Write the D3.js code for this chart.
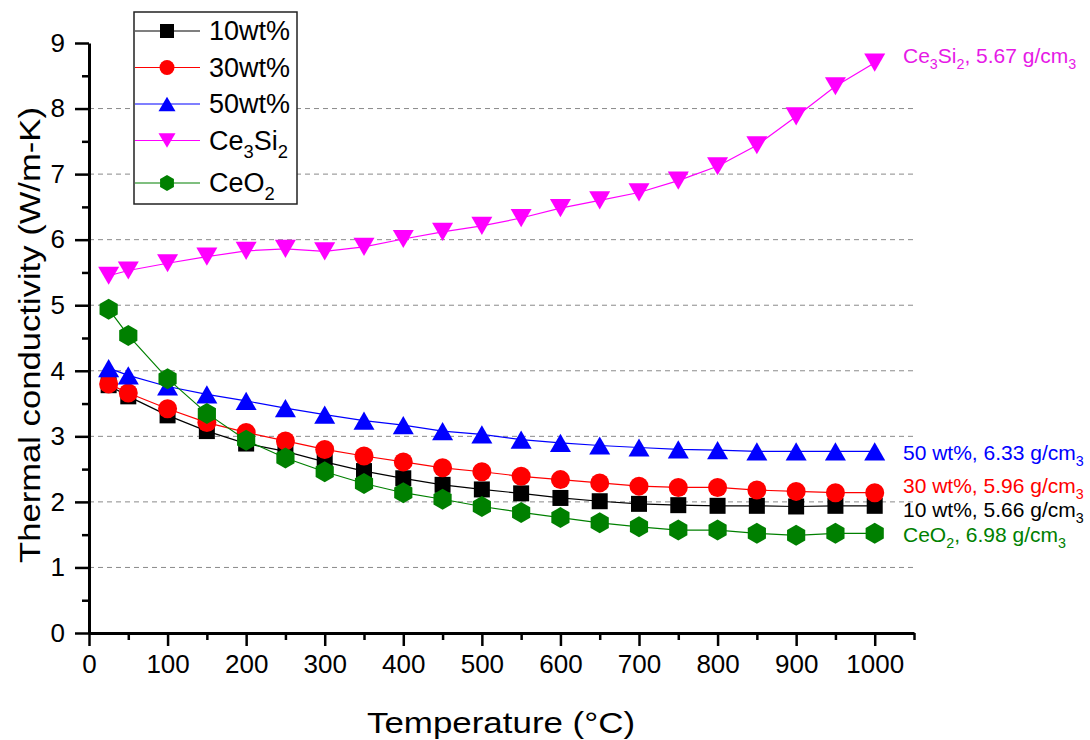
<!DOCTYPE html>
<html lang="en">
<head>
<meta charset="utf-8">
<title>Thermal conductivity</title>
<style>
  body { margin: 0; background: #fff; }
  svg text { font-family: Arial, "Liberation Sans", sans-serif; fill: #000; }
  .grid line { stroke: #8a8a8a; stroke-width: 1; stroke-dasharray: 5,4; }
  .axis path { stroke: #000; stroke-width: 3; }
  .axis line { stroke: #000; stroke-width: 2.5; }
</style>
</head>
<body>
<div id="chart"></div>
<script src="https://cdn.jsdelivr.net/npm/d3@7"></script>
<script>
var width = 1090,
    height = 740;

// temperature (C)
var temps = [25, 50, 100, 150, 200, 250, 300, 350, 400, 450, 500, 550, 600, 650, 700, 750, 800, 850, 900, 950, 1000];

// thermal conductivity (W/m-K)
var wt10   = [3.78, 3.61, 3.32, 3.08, 2.89, 2.77, 2.61, 2.47, 2.36, 2.26, 2.19, 2.13, 2.06, 2.01, 1.97, 1.95, 1.94, 1.94, 1.93, 1.94, 1.94];
var wt30   = [3.80, 3.66, 3.42, 3.21, 3.06, 2.93, 2.80, 2.70, 2.61, 2.52, 2.46, 2.39, 2.34, 2.29, 2.24, 2.22, 2.22, 2.18, 2.16, 2.14, 2.14];
var wt50   = [4.04, 3.93, 3.76, 3.64, 3.54, 3.43, 3.33, 3.24, 3.17, 3.08, 3.03, 2.95, 2.90, 2.86, 2.83, 2.80, 2.79, 2.77, 2.77, 2.77, 2.77];
var ce3si2 = [5.45, 5.53, 5.64, 5.74, 5.83, 5.86, 5.82, 5.89, 6.01, 6.12, 6.21, 6.33, 6.48, 6.60, 6.72, 6.90, 7.12, 7.44, 7.88, 8.34, 8.70];
var ceo2   = [4.94, 4.54, 3.88, 3.35, 2.94, 2.67, 2.46, 2.28, 2.14, 2.04, 1.93, 1.84, 1.76, 1.68, 1.62, 1.57, 1.57, 1.52, 1.49, 1.52, 1.52];

var names  = ["10wt%", "30wt%", "50wt%", "Ce3Si2", "CeO2"];
var notes  = ["10 wt%, 5.66 g/cm3", "30 wt%, 5.96 g/cm3", "50 wt%, 6.33 g/cm3", "Ce3Si2, 5.67 g/cm3", "CeO2, 6.98 g/cm3"];
var colors = ["#000000", "#ff0000", "#0000ff", "#ff00ff", "#008000"];

var xTicks = [0, 100, 200, 300, 400, 500, 600, 700, 800, 900, 1000];
var xMinor = [50, 150, 250, 350, 450, 550, 650, 750, 850, 950, 1050];
var yTicks = [0, 1, 2, 3, 4, 5, 6, 7, 8, 9];
var yMinor = [0.5, 1.5, 2.5, 3.5, 4.5, 5.5, 6.5, 7.5, 8.5];
var gridAt = [1, 2, 3, 4, 5, 6, 7, 8];

var series = [wt10, wt30, wt50, ce3si2, ceo2];

// where the right-hand notes sit, in W/m-K
var noteAt = [1.77, 2.13, 2.64, 8.69, 1.39];

var svg = d3.select("#chart")
    .append("svg")
    .attr("width", width)
    .attr("height", height);

var x = d3.scaleLinear().domain([0, 1050]).range([89, 914]);
var y = d3.scaleLinear().domain([0, 9]).range([633, 43]);

// marker shapes, size = half width
var hexagon = { draw: function(c, r) {
  for (var k = 0; k < 6; k++) {
    var a = (-90 + 60 * k) * Math.PI / 180;
    if (k === 0) c.moveTo(r * Math.cos(a), r * Math.sin(a));
    else c.lineTo(r * Math.cos(a), r * Math.sin(a));
  }
  c.closePath();
}};
var shapes = [
  { draw: function(c, r) { c.rect(-r, -r, 2 * r, 2 * r); } },
  { draw: function(c, r) { c.moveTo(r, 0); c.arc(0, 0, r, 0, 2 * Math.PI); } },
  { draw: function(c, r) { var h = r * Math.sqrt(3); c.moveTo(0, -h / 2); c.lineTo(r, h / 2); c.lineTo(-r, h / 2); c.closePath(); } },
  { draw: function(c, r) { var h = r * Math.sqrt(3); c.moveTo(0, h / 2); c.lineTo(r, -h / 2); c.lineTo(-r, -h / 2); c.closePath(); } },
  hexagon
];
var markR = [8, 9.5, 10.5, 10.5, 10.5];
var legendR = [7, 7.5, 8.5, 8.5, 8];

// digits right after a letter become subscripts
function segments(str) {
  var segs = [];
  for (var i = 0; i < str.length; i++) {
    var ch = str[i];
    var sub = /\d/.test(ch) && i > 0 && /[A-Za-z]/.test(str[i - 1]);
    var last = segs[segs.length - 1];
    if (last && !sub && !last.sub) last.t += ch;
    else segs.push({ t: ch, sub: sub });
  }
  return segs;
}

function richText(sel, str, fs) {
  var shift = 0;
  segments(str).forEach(function(s) {
    var want = s.sub ? Math.round(fs * 0.3) : 0;
    sel.append("tspan")
        .attr("dy", want - shift)
        .attr("font-size", s.sub ? fs * 0.68 : fs)
        .text(s.t);
    shift = want;
  });
}

// grid
svg.append("g")
    .attr("class", "grid")
  .selectAll("line")
    .data(gridAt)
  .enter().append("line")
    .attr("x1", x(0))
    .attr("x2", x(1050))
    .attr("y1", function(d) { return y(d); })
    .attr("y2", function(d) { return y(d); });

// axes
var xAxis = svg.append("g")
    .attr("class", "axis")
    .attr("transform", "translate(0," + y(0) + ")")
    .call(d3.axisBottom(x).tickValues(xTicks).tickFormat(d3.format("d")).tickSize(13).tickPadding(9).tickSizeOuter(0));
xAxis.attr("font-size", 26).attr("font-family", "Arial, 'Liberation Sans', sans-serif");

svg.append("g")
    .attr("class", "axis")
    .attr("transform", "translate(0," + y(0) + ")")
    .call(d3.axisBottom(x).tickValues(xMinor).tickSize(7).tickFormat("").tickSizeOuter(0))
    .select(".domain").remove();

var yAxis = svg.append("g")
    .attr("class", "axis")
    .attr("transform", "translate(" + x(0) + ",0)")
    .call(d3.axisLeft(y).tickValues(yTicks).tickFormat(d3.format("d")).tickSize(14).tickPadding(10).tickSizeOuter(0));
yAxis.attr("font-size", 26).attr("font-family", "Arial, 'Liberation Sans', sans-serif");

svg.append("g")
    .attr("class", "axis")
    .attr("transform", "translate(" + x(0) + ",0)")
    .call(d3.axisLeft(y).tickValues(yMinor).tickSize(7).tickFormat("").tickSizeOuter(0))
    .select(".domain").remove();

// axis titles
svg.append("text")
    .attr("x", 501)
    .attr("y", 733)
    .attr("text-anchor", "middle")
    .attr("font-size", 30)
    .attr("textLength", 268)
    .attr("lengthAdjust", "spacingAndGlyphs")
    .text("Temperature (\u00b0C)");

svg.append("text")
    .attr("transform", "translate(40,335) rotate(-90)")
    .attr("text-anchor", "middle")
    .attr("font-size", 30)
    .attr("textLength", 456)
    .attr("lengthAdjust", "spacingAndGlyphs")
    .text("Thermal conductivity (W/m-K)");

// series
var line = d3.line()
    .x(function(d, i) { return x(temps[i]); })
    .y(function(d) { return y(d); });

series.forEach(function(vals, s) {
  var g = svg.append("g");
  g.append("path")
      .attr("d", line(vals))
      .attr("fill", "none")
      .attr("stroke", colors[s])
      .attr("stroke-width", 1.2);
  g.selectAll("path.mark")
      .data(vals)
    .enter().append("path")
      .attr("class", "mark")
      .attr("d", d3.symbol(shapes[s], markR[s]))
      .attr("fill", colors[s])
      .attr("transform", function(d, i) { return "translate(" + x(temps[i]) + "," + y(d) + ")"; });
});

// right-hand notes
notes.forEach(function(n, s) {
  var t = svg.append("text")
      .attr("x", 903)
      .attr("y", y(noteAt[s]))
      .attr("font-size", 21)
      .style("fill", s === 3 ? "#e619e6" : colors[s]);
  richText(t, n, 21);
});

// legend
var legend = svg.append("g");
legend.append("rect")
    .attr("x", 134)
    .attr("y", 12)
    .attr("width", 163)
    .attr("height", 192)
    .attr("fill", "#fff")
    .attr("stroke", "#222")
    .attr("stroke-width", 1.5);

names.forEach(function(n, s) {
  var ly = 31 + s * 36.5 + (s === 4 ? 6 : 0);
  legend.append("line")
      .attr("x1", 135).attr("x2", 200)
      .attr("y1", ly).attr("y2", ly)
      .attr("stroke", colors[s])
      .attr("stroke-width", 1.2);
  legend.append("path")
      .attr("d", d3.symbol(shapes[s], legendR[s]))
      .attr("fill", colors[s])
      .attr("transform", "translate(167," + ly + ")");
  var t = legend.append("text")
      .attr("x", 209)
      .attr("y", ly + 9)
      .attr("font-size", 27);
  richText(t, n, 27);
});
</script>
</body>
</html>
